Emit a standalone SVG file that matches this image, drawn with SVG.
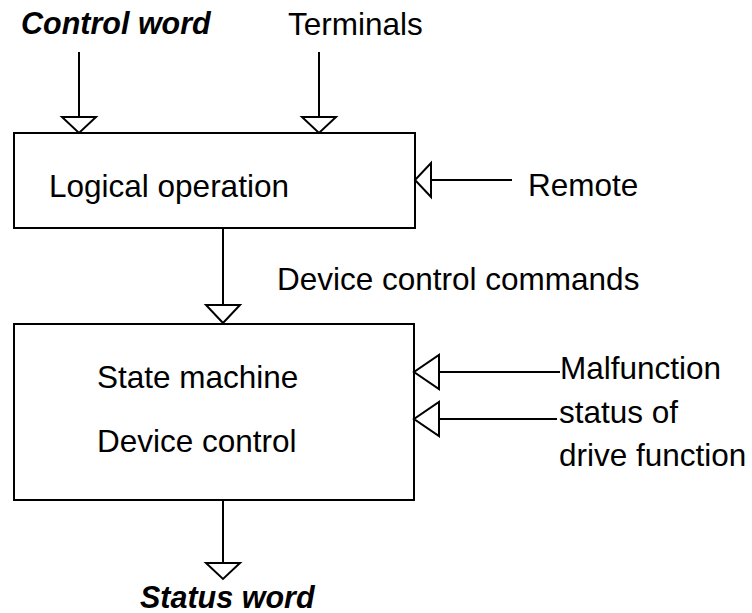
<svg xmlns="http://www.w3.org/2000/svg" width="752" height="613" viewBox="0 0 752 613">
<style>
.box{fill:#fff;stroke:#000;stroke-width:2}
.ln{fill:none;stroke:#000;stroke-width:2}
.ah{fill:#fff;stroke:#000;stroke-width:2;stroke-linejoin:miter}
.t{font-family:"Liberation Sans",Arial,sans-serif;font-size:31.5px;fill:#000}
.bi{font-family:"Liberation Sans",Arial,sans-serif;font-size:30.5px;font-weight:bold;font-style:italic;fill:#000}
</style>
<rect width="752" height="613" fill="#fff"/>
<g id="logical-operation">
<rect class="box" x="14" y="133" width="401" height="95"/>
<text class="t" x="49" y="197">Logical operation</text>
</g>
<g id="state-machine">
<rect class="box" x="14" y="324" width="400" height="176"/>
<text class="t" x="97" y="388">State machine</text>
<text class="t" x="97" y="452">Device control</text>
</g>
<g id="labels">
<text class="bi" x="21" y="34">Control word</text>
<text class="t" x="288" y="35">Terminals</text>
<text class="t" x="528" y="196">Remote</text>
<text class="t" x="277" y="290">Device control commands</text>
<text class="t" x="560" y="379">Malfunction</text>
<text class="t" x="559" y="423">status of</text>
<text class="t" x="559" y="466">drive function</text>
<text class="bi" x="140" y="608">Status word</text>
</g>
<g id="connectors">
<line class="ln" x1="79" y1="52" x2="79" y2="117"/>
<polygon class="ah" points="62,117 96,117 79,133"/>
<line class="ln" x1="319" y1="52" x2="319" y2="117"/>
<polygon class="ah" points="302,117 336,117 319,133"/>
<line class="ln" x1="431" y1="180" x2="512" y2="180"/>
<polygon class="ah" points="431,163 431,197 415,180"/>
<line class="ln" x1="223" y1="228" x2="223" y2="305"/>
<polygon class="ah" points="206,305 240,305 223,323"/>
<line class="ln" x1="439" y1="372" x2="560" y2="372"/>
<polygon class="ah" points="439,355 439,389 414,372"/>
<line class="ln" x1="439" y1="419" x2="557" y2="419"/>
<polygon class="ah" points="439,402 439,436 414,419"/>
<line class="ln" x1="223" y1="500" x2="223" y2="563"/>
<polygon class="ah" points="206,563 240,563 223,579"/>
</g>
</svg>
